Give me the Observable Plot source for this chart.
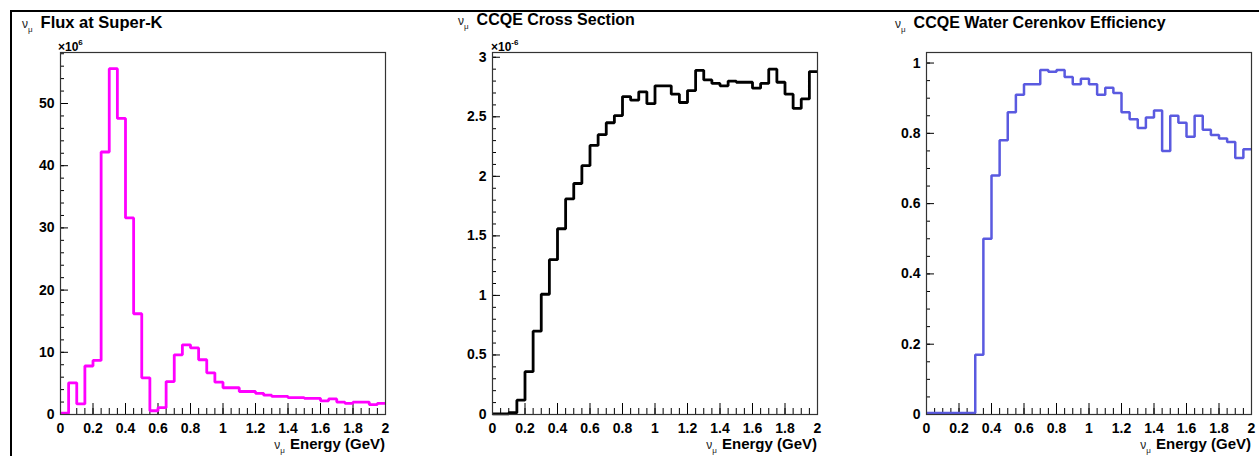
<!DOCTYPE html>
<html>
<head>
<meta charset="utf-8">
<script src="https://cdn.jsdelivr.net/npm/d3@7"></script>
<script src="https://cdn.jsdelivr.net/npm/@observablehq/plot@0.6"></script>
<style>
  html, body { margin: 0; padding: 0; background: #fff; }
  #wrap { position: relative; width: 1259px; height: 456px; overflow: hidden; background: #fff;
          font-family: "Liberation Sans", Arial, Helvetica, sans-serif; color: #000; }
  .border { position: absolute; left: 10px; top: 10px; width: 1400px; height: 600px;
            border-top: 2px solid #000; border-left: 2px solid #000; }
  .panel { position: absolute; top: 0; }
  .title { position: absolute; font-weight: bold; font-size: 16px; white-space: nowrap; line-height: 1; }
  .nu { font-weight: normal; font-size: 12px; color: #222; margin-right: 8px; }
  .nu sub { font-size: 8px; vertical-align: -4px; }
  .mult { position: absolute; font-weight: bold; font-size: 12px; white-space: nowrap; line-height: 1; }
  .mult sup { font-size: 8px; vertical-align: 6px; }
  .xlabel { position: absolute; font-weight: bold; font-size: 15px; white-space: nowrap; line-height: 1; text-align: right; }
  .xlabel .nu { font-size: 12px; margin-right: 5px; }
</style>
</head>
<body>
<div id="wrap">
  <div class="border"></div>
</div>
<script>
// ---- data ----
const binEdges = d3.range(0, 2, 0.05); // 40 bins from 0 to 2 GeV
const xMax = 2;

const fluxValues = [0.2, 5.1, 1.7, 7.8, 8.7, 42.2, 55.6, 47.6, 31.6, 16.2,
                    5.9, 0.6, 1.1, 5.3, 9.6, 11.2, 10.7, 8.8, 6.7, 5.2,
                    4.3, 4.3, 3.7, 3.7, 3.4, 3.1, 2.9, 2.9, 2.7, 2.7,
                    2.6, 2.6, 2.2, 2.5, 2.0, 1.8, 2.0, 2.0, 1.6, 1.8];

const xsecValues = [0.005, 0.005, 0.015, 0.12, 0.36, 0.70, 1.01, 1.30, 1.56, 1.81,
                    1.94, 2.09, 2.26, 2.35, 2.45, 2.51, 2.67, 2.64, 2.71, 2.61,
                    2.76, 2.76, 2.69, 2.62, 2.72, 2.89, 2.81, 2.78, 2.76, 2.80,
                    2.79, 2.79, 2.74, 2.78, 2.90, 2.79, 2.69, 2.57, 2.65, 2.88];

const effValues = [0.004, 0.004, 0.004, 0.004, 0.004, 0.004, 0.17, 0.50, 0.68, 0.78,
                   0.86, 0.91, 0.94, 0.94, 0.98, 0.975, 0.98, 0.96, 0.94, 0.955,
                   0.94, 0.91, 0.93, 0.915, 0.86, 0.84, 0.815, 0.845, 0.865, 0.75,
                   0.85, 0.83, 0.79, 0.85, 0.81, 0.795, 0.785, 0.775, 0.73, 0.755];

const xMajorTicks = [0, 0.2, 0.4, 0.6, 0.8, 1, 1.2, 1.4, 1.6, 1.8, 2];
const xMinorTicks = d3.range(0, 2.001, 0.05);

const fluxYMajor = [0, 10, 20, 30, 40, 50];
const fluxYMinor = d3.range(0, 58.1, 2);
const xsecYMajor = [0, 0.5, 1, 1.5, 2, 2.5, 3];
const xsecYMinor = d3.range(0, 3.01, 0.1);
const effYMajor = [0, 0.2, 0.4, 0.6, 0.8, 1];
const effYMinor = d3.range(0, 1.01, 0.05);

const titles = ["Flux at Super-K", "CCQE Cross Section", "CCQE Water Cerenkov Efficiency"];
const xAxisTitle = "Energy (GeV)";

// ---- drawing ----
const fmt = d => String(+(+d).toFixed(3));
const wrap = document.getElementById("wrap");
const H = 456, MT = 52, MB = 42;

function panel({left, width, frameLeft, frameRight, yDomain, yMajor, yMinor, values, color, strokeWidth}) {
  const marginLeft = frameLeft - left;
  const marginRight = left + width - frameRight;
  const plotW = frameRight - frameLeft;
  const plotH = H - MT - MB;
  const pts = binEdges.map((x, i) => ({x, y: values[i]}));
  pts.push({x: xMax, y: values[values.length - 1]});
  const svg = Plot.plot({
    width, height: H, marginTop: MT, marginBottom: MB, marginLeft, marginRight,
    style: {background: "transparent", fontFamily: "'Liberation Sans', Arial, sans-serif", fontWeight: "bold", fontSize: "14px", color: "#000", overflow: "visible"},
    x: {domain: [0, xMax]},
    y: {domain: yDomain},
    marks: [
      Plot.tickX(xMinorTicks, {x: d => d, insetTop: plotH - 6, stroke: "#000", strokeWidth: 1}),
      Plot.tickX(xMajorTicks, {x: d => d, insetTop: plotH - 11, stroke: "#000", strokeWidth: 1}),
      Plot.tickY(yMinor, {y: d => d, insetRight: plotW - 4, stroke: "#000", strokeWidth: 1}),
      Plot.tickY(yMajor, {y: d => d, insetRight: plotW - 8, stroke: "#000", strokeWidth: 1}),
      Plot.axisX({ticks: xMajorTicks, tickSize: 0, tickPadding: 9, tickFormat: fmt, label: null, fontSize: 14}),
      Plot.axisY({ticks: yMajor, tickSize: 0, tickPadding: 6, tickFormat: fmt, label: null, fontSize: 14}),
      Plot.line(pts, {x: "x", y: "y", curve: "step-after", stroke: color, strokeWidth, strokeLinejoin: "miter", strokeLinecap: "butt"}),
      Plot.frame({stroke: "#333", strokeWidth: 1.2})
    ]
  });
  svg.classList.add("panel");
  svg.style.left = left + "px";
  wrap.appendChild(svg);
}

function addHTML(html, cls, style) {
  const d = document.createElement("div");
  d.className = cls;
  d.innerHTML = html;
  Object.assign(d.style, style);
  wrap.appendChild(d);
  return d;
}

const nuMu = '<span class="nu">ν<sub>μ</sub></span>';

panel({left: 12, width: 418, frameLeft: 60, frameRight: 385, yDomain: [0, 58.2],
       yMajor: fluxYMajor, yMinor: fluxYMinor, values: fluxValues, color: "#ff00ff", strokeWidth: 2.8});
panel({left: 430, width: 420, frameLeft: 492, frameRight: 817, yDomain: [0, 3.04],
       yMajor: xsecYMajor, yMinor: xsecYMinor, values: xsecValues, color: "#000000", strokeWidth: 2.8});
panel({left: 850, width: 409, frameLeft: 926, frameRight: 1251, yDomain: [0, 1.03],
       yMajor: effYMajor, yMinor: effYMinor, values: effValues, color: "#5a5ae0", strokeWidth: 2.5});

// titles
addHTML(nuMu + titles[0], "title", {left: "22px", top: "14px", fontSize: "16.5px"});
addHTML(nuMu + titles[1], "title", {left: "458px", top: "12px"});
addHTML(nuMu + titles[2], "title", {left: "895px", top: "15px"});

// exponent multipliers
addHTML("×10<sup>6</sup>", "mult", {left: "58px", top: "39px"});
addHTML("×10<sup>-6</sup>", "mult", {left: "491px", top: "39px"});

// x axis titles (right-aligned to plot frame)
[[385], [817], [1251]].forEach(([right]) => {
  addHTML(nuMu + xAxisTitle, "xlabel", {right: (1259 - right) + "px", top: "436px"});
});
</script>
</body>
</html>
